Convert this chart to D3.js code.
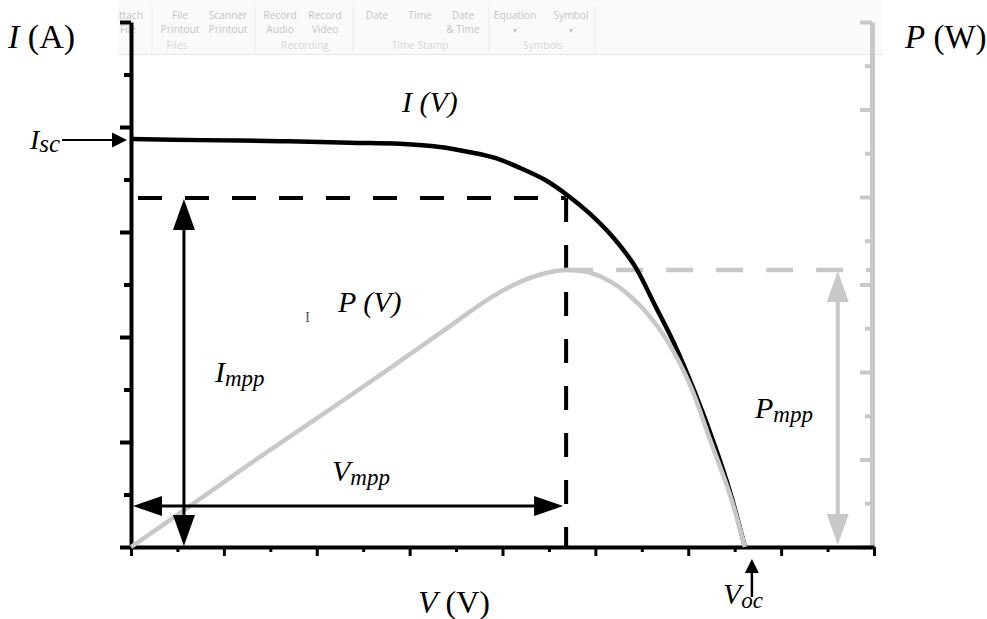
<!DOCTYPE html>
<html>
<head>
<meta charset="utf-8">
<script src="https://cdn.jsdelivr.net/npm/d3@7"></script>
<style>
  html, body { margin: 0; padding: 0; background: #ffffff; }
  svg { display: block; }
  .serif { font-family: "Liberation Serif", "Times New Roman", serif; }
  .ui { font-family: "Open Sans", "Noto Sans", sans-serif; }
</style>
</head>
<body>
<svg id="chart" width="987" height="619"></svg>
<script>
// I–V characteristic of a solar cell (current vs. voltage)
const voltageI = [0, 1.49, 3.21, 4.72, 5.79, 6.65, 7.30, 7.84, 8.38, 8.92, 9.37, 9.88, 10.38, 10.85, 11.28, 11.71, 12.15, 12.58, 12.90, 13.22];
const currentI = [7.77, 7.75, 7.73, 7.70, 7.68, 7.62, 7.52, 7.41, 7.22, 6.99, 6.72, 6.35, 5.90, 5.35, 4.61, 3.85, 2.93, 1.91, 1.05, 0];

// P–V characteristic (power vs. voltage)
const voltageP = [0, 1.06, 2.56, 4.07, 5.58, 6.87, 7.73, 8.38, 8.96, 9.37, 9.88, 10.38, 10.75, 11.11, 11.54, 12.04, 12.47, 12.90, 13.22];
const powerP   = [0, 0.78, 1.90, 2.99, 4.09, 5.05, 5.69, 6.06, 6.27, 6.33, 6.27, 6.03, 5.73, 5.35, 4.73, 3.70, 2.45, 1.19, 0];

// Characteristic points
const Isc = 7.77, Voc = 13.22;
const Vmpp = 9.37, Impp = 6.65, Pmpp = 6.33;

// Axis ticks (unlabelled)
const vTicks = d3.range(0, 17);
const iTicks = d3.range(0, 11);
const pTicks = d3.range(0, 13);

// Ribbon captions of the office toolbar strip across the top
const ribbonTop    = ["Attach", "File", "Scanner", "Record", "Record", "Date", "Time", "Date", "Equation", "Symbol"];
const ribbonBottom = ["File", "Printout", "Printout", "Audio", "Video", "", "", "& Time", "\u25BE", "\u25BE"];
const ribbonGroups = ["Files", "Recording", "Time Stamp", "Symbols"];

const svg = d3.select("#chart");

const x  = d3.scaleLinear().domain([0, 16]).range([131, 874]);
const yI = d3.scaleLinear().domain([0, 10]).range([547, 22]);
const yP = d3.scaleLinear().domain([0, 12]).range([547, 22]);

const black = "#000000";
const grey  = "#c8c8c8";

// ---------- toolbar strip ----------
const rib = svg.append("g");
rib.append("clipPath").attr("id", "ribclip")
  .append("rect").attr("x", 118).attr("y", 0).attr("width", 765).attr("height", 55);
const ribG = rib.append("g").attr("clip-path", "url(#ribclip)");
ribG.append("rect").attr("x", 118).attr("y", 0).attr("width", 765).attr("height", 54).attr("fill", "#fafafa");
ribG.append("line").attr("x1", 118).attr("x2", 883).attr("y1", 54.5).attr("y2", 54.5)
  .attr("stroke", "#e6e6e6").attr("stroke-width", 1);
const ribX = [119, 180, 228, 280, 325, 377, 420, 463, 515, 571];
ribbonTop.forEach((t, i) => {
  ribG.append("text").attr("class", "ui").attr("x", ribX[i]).attr("y", 18.5)
    .attr("text-anchor", i === 0 ? "end" : "middle").attr("dx", i === 0 ? 24 : 0)
    .attr("font-size", 10.2).attr("fill", "#c4c4c4").text(t);
  if (ribbonBottom[i]) {
    ribG.append("text").attr("class", "ui").attr("x", i === 0 ? 128 : ribX[i]).attr("y", 32.5)
      .attr("text-anchor", "middle").attr("font-size", ribbonBottom[i] === "\u25BE" ? 8 : 10.2)
      .attr("fill", "#c4c4c4").text(ribbonBottom[i]);
  }
});
[177, 305, 420, 543].forEach((gx, i) => {
  ribG.append("text").attr("class", "ui").attr("x", gx).attr("y", 48.5)
    .attr("text-anchor", "middle").attr("font-size", 10.2).attr("fill", "#d6d6d6").text(ribbonGroups[i]);
});
[152, 255, 353, 489, 595].forEach(sx => {
  ribG.append("line").attr("x1", sx).attr("x2", sx).attr("y1", 6).attr("y2", 52)
    .attr("stroke", "#ebebeb").attr("stroke-width", 1);
});

// ---------- helpers ----------
function head(g, tx, ty, dx, dy, len, half, color) {
  const bx = tx - dx * len, by = ty - dy * len;
  const px = -dy * half, py = dx * half;
  g.append("path")
    .attr("d", `M${tx},${ty}L${bx + px},${by + py}L${bx - px},${by - py}Z`)
    .attr("fill", color);
}
function line(g, x1, y1, x2, y2, color, w, dash) {
  const l = g.append("line").attr("x1", x1).attr("y1", y1).attr("x2", x2).attr("y2", y2)
    .attr("stroke", color).attr("stroke-width", w);
  if (dash) l.attr("stroke-dasharray", dash);
  return l;
}

// ---------- axes ----------
// Right power axis (grey)
const axR = svg.append("g").attr("transform", `translate(${x(16) - 2},0)`)
  .call(d3.axisLeft(yP).tickValues(pTicks).tickSize(10).tickSizeOuter(0).tickFormat(""));
axR.select(".domain").attr("stroke", grey).attr("stroke-width", 5);
axR.selectAll(".tick line").attr("stroke", grey).attr("stroke-width", 4)
  .attr("x2", d => d % 2 === 0 ? -12 : -7);

// Bottom voltage axis
const axB = svg.append("g").attr("transform", `translate(0,${yI(0)})`)
  .call(d3.axisBottom(x).tickValues(vTicks).tickSize(8).tickSizeOuter(0).tickFormat(""));
axB.select(".domain").attr("stroke", black).attr("stroke-width", 4);
axB.selectAll(".tick line").attr("stroke", black).attr("stroke-width", 3)
  .attr("y2", d => d % 2 === 0 ? 9 : 5);

// Left current axis
const axL = svg.append("g").attr("transform", `translate(${x(0)},0)`)
  .call(d3.axisLeft(yI).tickValues(iTicks).tickSize(10).tickSizeOuter(0).tickFormat(""));
axL.select(".domain").attr("stroke", black).attr("stroke-width", 4);
axL.selectAll(".tick line").attr("stroke", black).attr("stroke-width", 4)
  .attr("x2", d => d % 2 === 0 ? -11 : -7);

// ---------- guide lines at the maximum power point ----------
const guides = svg.append("g");
line(guides, x(0) + 7, yI(Impp), x(Vmpp), yI(Impp), black, 4, "24 23");
line(guides, x(Vmpp), yI(Impp), x(Vmpp), yI(0), black, 4, "24 23");
line(guides, x(Vmpp), yP(Pmpp), x(16) - 2, yP(Pmpp), grey, 4.5, "27 23");

// ---------- curves ----------
const smooth = d3.curveCatmullRom.alpha(0.5);
const ivLine = d3.line().x(d => x(d[0])).y(d => yI(d[1])).curve(smooth);
const pvLine = d3.line().x(d => x(d[0])).y(d => yP(d[1])).curve(smooth);

svg.append("path").datum(voltageI.map((v, i) => [v, currentI[i]]))
  .attr("d", ivLine).attr("fill", "none").attr("stroke", black).attr("stroke-width", 4.5)
  .attr("stroke-linejoin", "round");
svg.append("path").datum(voltageP.map((v, i) => [v, powerP[i]]))
  .attr("d", pvLine).attr("fill", "none").attr("stroke", grey).attr("stroke-width", 4.5)
  .attr("stroke-linejoin", "round");

// ---------- dimension arrows ----------
const arr = svg.append("g");
// Impp (vertical, black)
const ax1 = x(1.14);
line(arr, ax1, yI(Impp) + 20, ax1, yI(0) - 20, black, 3);
head(arr, ax1, yI(Impp) + 1, 0, -1, 31, 11, black);
head(arr, ax1, yI(0) - 1, 0, 1, 31, 11, black);
// Vmpp (horizontal, black)
const ay1 = yI(0.78);
line(arr, x(0) + 20, ay1, x(Vmpp) - 20, ay1, black, 3);
head(arr, x(0) + 2, ay1, -1, 0, 29, 10, black);
head(arr, x(Vmpp) - 3, ay1, 1, 0, 29, 10, black);
// Pmpp (vertical, grey)
const ax2 = x(15.22);
line(arr, ax2, yP(Pmpp) + 20, ax2, yP(0) - 20, grey, 4);
head(arr, ax2, yP(Pmpp) + 1, 0, -1, 31, 11, grey);
head(arr, ax2, yP(0) - 2, 0, 1, 31, 11, grey);
// Isc pointer
const iscY = yI(Isc) + 1;
line(arr, 62, iscY, x(0) - 16, iscY, black, 2);
head(arr, x(0) - 4, iscY, 1, 0, 15, 7.5, black);
// Voc pointer
line(arr, x(Voc) + 7, 597, x(Voc) + 7, 572, black, 2.5);
head(arr, x(Voc) + 7, 559, 0, -1, 14, 7, black);

// ---------- labels ----------
const lab = svg.append("g").attr("class", "serif").attr("fill", black);
function label(px, py, size, parts) {
  const t = lab.append("text").attr("x", px).attr("y", py).attr("font-size", size);
  parts.forEach(p => {
    const s = t.append("tspan").text(p.t);
    if (p.i) s.attr("font-style", "italic");
    if (p.size) s.attr("font-size", p.size);
    if (p.dy) s.attr("dy", p.dy);
  });
  return t;
}
label(8, 48, 34, [{ t: "I", i: true }, { t: " (A)" }]);
label(905, 48, 33, [{ t: "P", i: true }, { t: " (W)" }]);
label(402, 112, 30, [{ t: "I (V)", i: true }]);
label(338, 312, 30, [{ t: "P (V)", i: true }]);
label(30, 149, 28, [{ t: "I", i: true }, { t: "sc", i: true, size: 25, dy: 3 }]);
label(215, 382, 30, [{ t: "I", i: true }, { t: "mpp", i: true, size: 23, dy: 4 }]);
label(332, 481, 30, [{ t: "V", i: true }, { t: "mpp", i: true, size: 23, dy: 4 }]);
label(755, 418, 30, [{ t: "P", i: true }, { t: "mpp", i: true, size: 23, dy: 4 }]);
label(723, 604, 30, [{ t: "V", i: true }, { t: "oc", i: true, size: 23, dy: 4 }]);
label(418, 613, 32, [{ t: "V", i: true }, { t: " (V)" }]);
// stray cursor mark
lab.append("text").attr("x", 305).attr("y", 322).attr("font-size", 15).attr("fill", "#555").text("I");
</script>
</body>
</html>
